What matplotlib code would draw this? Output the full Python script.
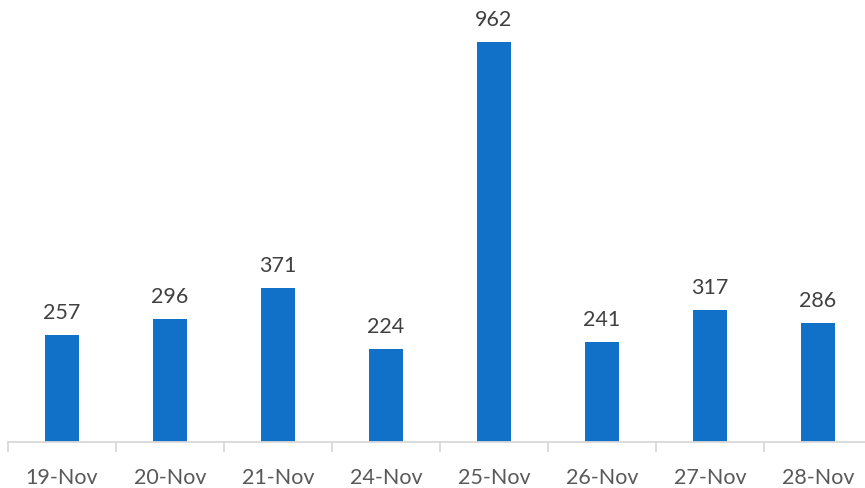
import matplotlib
matplotlib.use("Agg")
import matplotlib.pyplot as plt
import numpy as np

categories = ["19-Nov", "20-Nov", "21-Nov", "24-Nov", "25-Nov", "26-Nov", "27-Nov", "28-Nov"]
values = [257, 296, 371, 224, 962, 241, 317, 286]

plt.rcParams['font.family'] = ['Lato', 'DejaVu Sans']

W, H = 865, 489
fig = plt.figure(figsize=(W / 100, H / 100), dpi=100)
left, right, bottom = 8, 872, 443
ax = fig.add_axes([left / W, (H - bottom) / H, (right - left) / W, bottom / H])
x = np.arange(len(categories))
bars = ax.bar(x, values, width=0.31, color="#1170C8")
ax.set_xlim(-0.5, len(categories) - 0.5)
ax.set_ylim(0, bottom / 0.4158)
for xi, v in zip(x, values):
    ax.annotate(str(v), (xi, v), xytext=(0, 9.5), textcoords="offset points",
                ha="center", va="bottom", fontsize=15.5, color="#404040")

for s in ["top", "right", "left"]:
    ax.spines[s].set_visible(False)
ax.spines["bottom"].set_color("#D9D9D9")
ax.spines["bottom"].set_linewidth(1.3)
ax.set_yticks([])
ax.set_xticks(x)
ax.set_xticklabels(categories, fontsize=15.5, color="#595959")
ax.tick_params(axis="x", which="major", length=0, pad=18)
ax.set_xticks(np.arange(-0.5, len(categories), 1.0), minor=True)
ax.tick_params(axis="x", which="minor", length=7, width=1.3, color="#D9D9D9")

fig.savefig("out.png", dpi=100)
